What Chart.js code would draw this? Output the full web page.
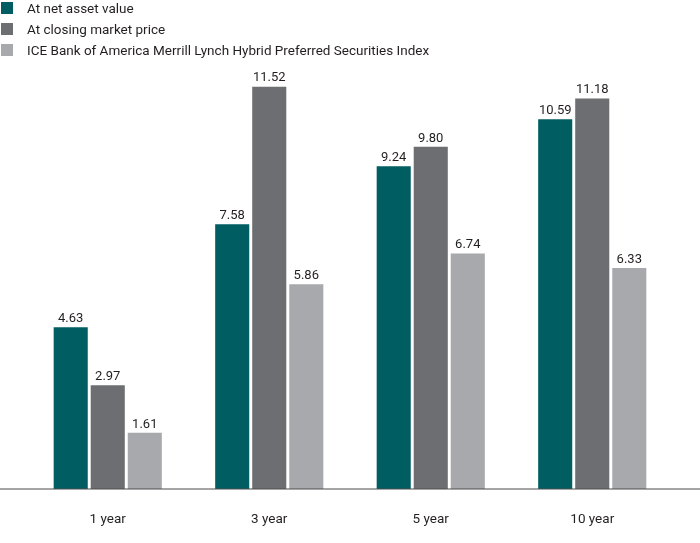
<!DOCTYPE html>
<html>
<head>
<meta charset="utf-8">
<script src="https://cdn.jsdelivr.net/npm/chart.js@4.4.1/dist/chart.umd.min.js"></script>
<style>
  html, body { margin: 0; padding: 0; background: #fff; }
  #wrap { position: relative; width: 700px; height: 543px; }
  #chart { position: absolute; left: 0; top: 0; }
  #legend { position: absolute; left: 0; top: 0; font-family: Roboto, sans-serif; font-size: 13.5px; color: #231f20; }
  #legend div { height: 21px; line-height: 17px; white-space: nowrap; }
  #legend span.box { display: inline-block; width: 12px; height: 12px; margin: 0 14px 0 1px; vertical-align: -1px; }
</style>
</head>
<body>
<div id="wrap">
  <canvas id="chart" width="700" height="543"></canvas>
  <div id="legend"></div>
</div>
<script>
const categories = ['1 year', '3 year', '5 year', '10 year'];
const navValues = [4.63, 7.58, 9.24, 10.59];
const marketValues = [2.97, 11.52, 9.80, 11.18];
const indexValues = [1.61, 5.86, 6.74, 6.33];
const seriesNames = [
  'At net asset value',
  'At closing market price',
  'ICE Bank of America Merrill Lynch Hybrid Preferred Securities Index'
];
const seriesColors = ['#005e62', '#6d6e71', '#a7a9ac'];

const legendDiv = document.getElementById('legend');
seriesNames.forEach(function (name, i) {
  const row = document.createElement('div');
  const box = document.createElement('span');
  box.className = 'box';
  box.style.background = seriesColors[i];
  row.appendChild(box);
  row.appendChild(document.createTextNode(name));
  legendDiv.appendChild(row);
});

// value labels above each bar
const valueLabels = {
  id: 'valueLabels',
  afterDatasetsDraw(chart) {
    const ctx = chart.ctx;
    ctx.save();
    ctx.font = '13px Roboto, sans-serif';
    ctx.fillStyle = '#231f20';
    ctx.textAlign = 'center';
    ctx.textBaseline = 'bottom';
    chart.data.datasets.forEach(function (ds, i) {
      chart.getDatasetMeta(i).data.forEach(function (bar, j) {
        ctx.fillText(ds.data[j].toFixed(2), bar.x, bar.y - 2);
      });
    });
    ctx.restore();
  }
};

// baseline across the whole width
const baseLine = {
  id: 'baseLine',
  afterDraw(chart) {
    const ctx = chart.ctx;
    const y = chart.scales.y.getPixelForValue(0);
    ctx.save();
    ctx.strokeStyle = '#4d4d4f';
    ctx.lineWidth = 1.2;
    ctx.beginPath();
    ctx.moveTo(0, y);
    ctx.lineTo(chart.width, y);
    ctx.stroke();
    ctx.restore();
  }
};

const values = [navValues, marketValues, indexValues];

new Chart(document.getElementById('chart'), {
  type: 'bar',
  data: {
    labels: categories,
    datasets: values.map(function (v, i) {
      return {
        label: seriesNames[i],
        data: v,
        backgroundColor: seriesColors[i],
        categoryPercentage: 0.688,
        barPercentage: 0.92
      };
    })
  },
  options: {
    responsive: false,
    animation: false,
    layout: { padding: { top: 35, left: 27, right: 27, bottom: 0 } },
    plugins: {
      legend: { display: false },
      tooltip: { enabled: false }
    },
    scales: {
      x: {
        grid: { display: false, drawTicks: false },
        border: { display: false },
        ticks: {
          color: '#231f20',
          font: { family: 'Roboto, sans-serif', size: 13.5 },
          padding: 23
        },
        afterFit: function (scale) { scale.height = 54; }
      },
      y: {
        display: false,
        min: 0,
        max: 13
      }
    }
  },
  plugins: [valueLabels, baseLine]
});
</script>
</body>
</html>
